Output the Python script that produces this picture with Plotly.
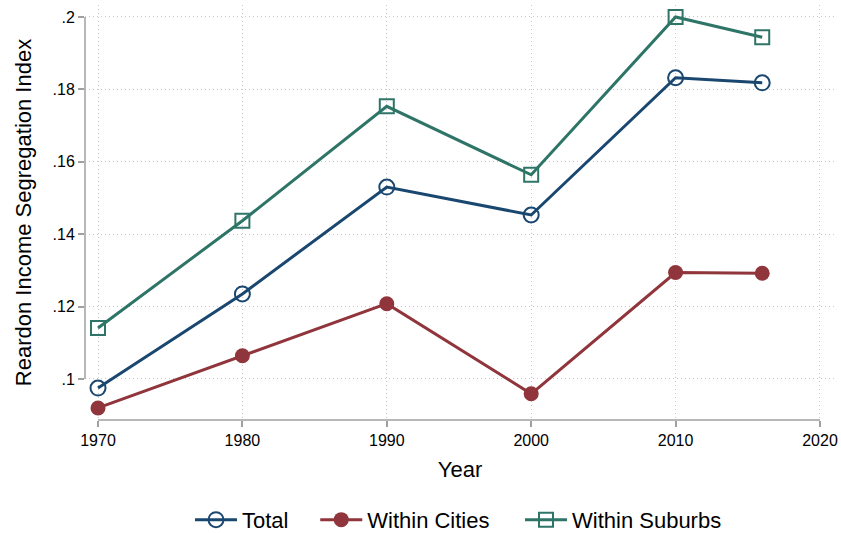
import plotly.graph_objects as go

years = [1970, 1980, 1990, 2000, 2010, 2016]
total = [0.0975, 0.1235, 0.1530, 0.1453, 0.1832, 0.1818]
within_cities = [0.0920, 0.1064, 0.1208, 0.0959, 0.1294, 0.1292]
within_suburbs = [0.1141, 0.1437, 0.1753, 0.1564, 0.2000, 0.1944]

x_ticks = [1970, 1980, 1990, 2000, 2010, 2020]
y_ticks = [0.10, 0.12, 0.14, 0.16, 0.18, 0.20]
y_ticktext = [".1", ".12", ".14", ".16", ".18", ".2"]

NAVY = "#1a476f"
MAROON = "#90353b"
GREEN = "#2e7567"
AXIS = "#a0a0a0"
FONT = "Liberation Sans, Arial, sans-serif"

fig = go.Figure()
fig.add_trace(go.Scatter(
    x=years, y=total, name="Total", mode="lines+markers", legend="legend",
    line=dict(color=NAVY, width=3),
    marker=dict(symbol="circle-open", size=15, color=NAVY, line=dict(width=2, color=NAVY)),
))
fig.add_trace(go.Scatter(
    x=years, y=within_cities, name="Within Cities", mode="lines+markers", legend="legend2",
    line=dict(color=MAROON, width=3),
    marker=dict(symbol="circle", size=15, color=MAROON),
))
fig.add_trace(go.Scatter(
    x=years, y=within_suburbs, name="Within Suburbs", mode="lines+markers", legend="legend3",
    line=dict(color=GREEN, width=3),
    marker=dict(symbol="square-open", size=14, color=GREEN, line=dict(width=2, color=GREEN)),
))

grid = dict(showgrid=True, gridcolor="#c8c8c8", gridwidth=1, griddash="1px,3px")
leg = dict(orientation="h", y=-0.19, yanchor="top", xanchor="left", itemwidth=42,
           font=dict(size=22, family=FONT), bgcolor="rgba(0,0,0,0)", visible=True)

fig.update_layout(
    width=841, height=533,
    showlegend=True,
    margin=dict(l=85, r=6, t=5, b=113, autoexpand=False),
    paper_bgcolor="white", plot_bgcolor="white",
    font=dict(family=FONT, color="black"),
    xaxis=dict(
        range=[1969.1, 2021.04], tickvals=x_ticks, ticks="outside", ticklen=6,
        tickcolor=AXIS, tickwidth=1.5, tickfont=dict(size=16, family=FONT),
        title=dict(text="Year", font=dict(size=22, family=FONT), standoff=13),
        zeroline=False, showline=False, **grid,
    ),
    yaxis=dict(
        range=[0.08867, 0.2033], tickvals=y_ticks, ticktext=y_ticktext,
        ticks="outside", ticklen=6, tickcolor=AXIS, tickwidth=1.5,
        tickfont=dict(size=16, family=FONT),
        title=dict(text="Reardon Income Segregation Index", font=dict(size=22, family=FONT), standoff=14),
        zeroline=False, showline=False, **grid,
    ),
    legend=dict(x=0.14, **leg),
    legend2=dict(x=0.307, **leg),
    legend3=dict(x=0.58, **leg),
    shapes=[
        dict(type="line", xref="paper", yref="y", x0=0, x1=0, y0=y_ticks[0], y1=y_ticks[-1],
             line=dict(color=AXIS, width=1.5)),
        dict(type="line", xref="x", yref="paper", x0=x_ticks[0], x1=x_ticks[-1], y0=0, y1=0,
             line=dict(color=AXIS, width=1.5)),
    ],
)

fig.write_html("out.html")
